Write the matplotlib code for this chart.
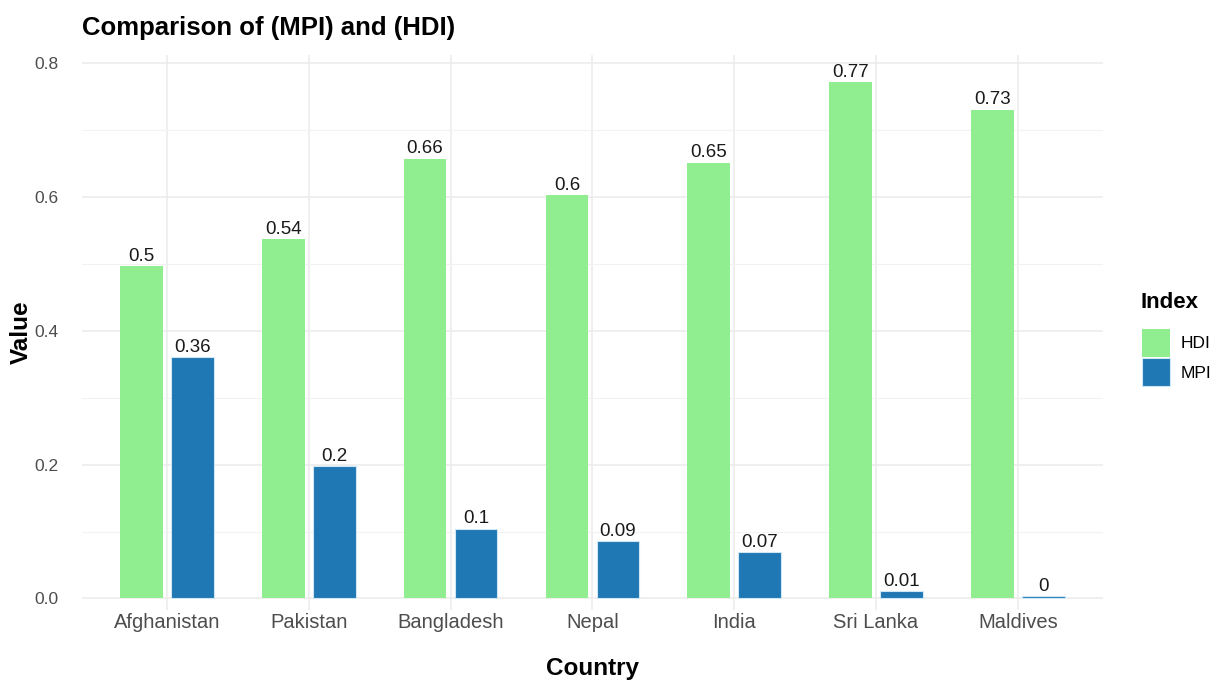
import matplotlib.pyplot as plt
import matplotlib.ticker as mticker
import numpy as np

plt.rcParams['font.family'] = ['Liberation Sans', 'DejaVu Sans']

countries = ['Afghanistan', 'Pakistan', 'Bangladesh', 'Nepal', 'India', 'Sri Lanka', 'Maldives']
hdi = [0.496, 0.537, 0.657, 0.602, 0.651, 0.771, 0.730]
mpi = [0.360, 0.198, 0.104, 0.086, 0.069, 0.011, 0.003]

hdi_color = '#90EE90'
mpi_color = '#1F77B4'

fig = plt.figure(figsize=(12.24, 6.86), dpi=100)
# panel roughly x 82..1102, y 55..610 px
ax = fig.add_axes([0.067, 0.111, 0.834, 0.809])

x = np.arange(len(countries))
offset = 0.18
width = 0.30

hdi_bars = ax.bar(x - offset, hdi, width, color=hdi_color, label='HDI', zorder=2)
mpi_bars = ax.bar(x + offset, mpi, width, color=mpi_color, edgecolor='#CFE6F5',
                  linewidth=0.8, label='MPI', zorder=2)


def fmt(v):
    return f"{round(v, 2):g}"


for bars, vals in [(hdi_bars, hdi), (mpi_bars, mpi)]:
    for b, v in zip(bars, vals):
        ax.annotate(fmt(v), (b.get_x() + b.get_width() / 2, v),
                    xytext=(0, 1), textcoords='offset points',
                    ha='center', va='bottom', fontsize=13.5, color='#1A1A1A', zorder=3)

# ggplot-like minimal theme
ax.set_xlim(-0.6, len(countries) - 0.4)
ax.set_ylim(-0.017, 0.812)
ax.set_xticks(x)
ax.set_xticklabels(countries)
ax.yaxis.set_major_locator(mticker.MultipleLocator(0.2))
ax.yaxis.set_minor_locator(mticker.MultipleLocator(0.1))
ax.yaxis.set_major_formatter(mticker.FormatStrFormatter('%.1f'))
ax.grid(True, which='major', color='#EBEBEB', linewidth=1.1, zorder=0)
ax.grid(True, which='minor', axis='y', color='#F2F2F2', linewidth=0.8, zorder=0)
ax.set_axisbelow(True)
for s in ax.spines.values():
    s.set_visible(False)
ax.tick_params(which='both', length=0, colors='#4D4D4D')
ax.tick_params(axis='y', labelsize=12.5, pad=17)
ax.tick_params(axis='x', labelsize=14.5, pad=2)

ax.set_xlabel('Country', fontsize=17.5, fontweight='bold', labelpad=18)
ax.set_ylabel('Value', fontsize=17.5, fontweight='bold', labelpad=1)
ax.set_title('Comparison of (MPI) and (HDI)', fontsize=18.5, fontweight='bold',
             loc='left', pad=14)

fig.text(1141 / 1224, 1 - 303 / 686, 'Index', fontsize=16, fontweight='bold',
         ha='left', va='center')
leg = ax.legend(handles=[hdi_bars, mpi_bars], labels=['HDI', 'MPI'],
                loc='upper left', bbox_to_anchor=(1126 / 1224, 1 - 313 / 686),
                bbox_transform=fig.transFigure, frameon=False, fontsize=12.5,
                handlelength=1.65, handleheight=2.1, labelspacing=0.1,
                handletextpad=0.6)

fig.savefig('out.png', dpi=100)
